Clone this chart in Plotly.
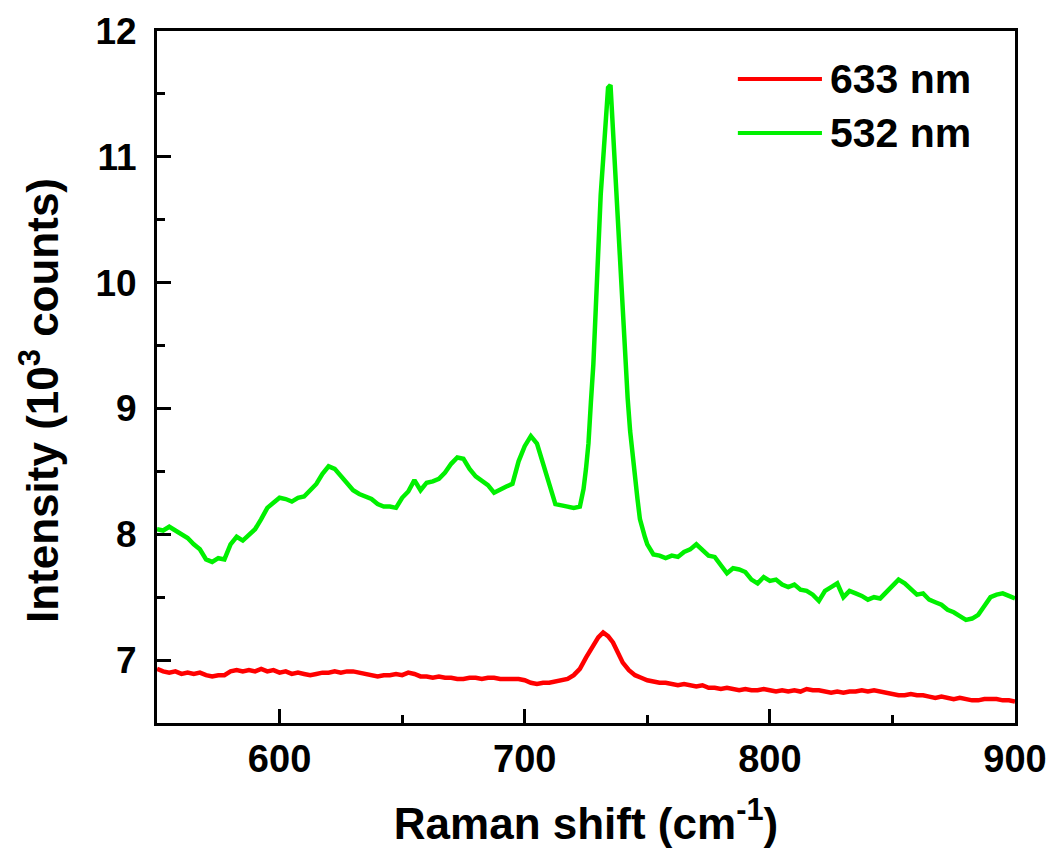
import plotly.graph_objects as go

# ---- data ----
green_x = [550, 552.5, 555, 557.5, 560, 562.5, 565, 567.5, 570, 572.5, 575, 577.5, 580, 582.5, 585, 587.5,
           590, 592.5, 595, 597.5, 600, 602.5, 605, 607.5, 610, 612.5, 615, 617.5, 620, 622.5, 625, 627.5,
           630, 632.5, 635, 637.5, 640, 642.5, 645, 647.5, 650, 652.5, 655, 657.5, 660, 662.5, 665, 667.5,
           670, 672.5, 675, 677.5, 680, 682.5, 685, 687.5, 690, 692.5, 695, 697.5, 700, 702.5, 705, 707.5,
           710, 712.5, 715, 717.5, 720, 722.5, 724, 725, 726, 727, 728, 729, 730, 731, 732, 733, 734, 735,
           736, 737, 738, 739, 740, 741, 742, 743, 744, 745, 746, 747, 748, 749, 750, 752.5, 755, 757.5,
           760, 762.5, 765, 767.5, 770, 772.5, 775, 777.5, 780, 782.5, 785, 787.5, 790, 792.5, 795, 797.5,
           800, 802.5, 805, 807.5, 810, 812.5, 815, 817.5, 820, 822.5, 825, 827.5, 830, 832.5, 835, 837.5,
           840, 842.5, 845, 847.5, 850, 852.5, 855, 857.5, 860, 862.5, 865, 867.5, 870, 872.5, 875, 877.5,
           880, 882.5, 885, 887.5, 890, 892.5, 895, 897.5, 900]
green_y = [8.04, 8.03, 8.06, 8.03, 8.01, 7.97, 7.92, 7.88, 7.80, 7.78, 7.81, 7.80, 7.92, 7.98, 7.95, 7.99,
           8.04, 8.12, 8.21, 8.25, 8.29, 8.28, 8.26, 8.29, 8.30, 8.35, 8.40, 8.48, 8.54, 8.52, 8.46, 8.40,
           8.35, 8.32, 8.30, 8.28, 8.24, 8.22, 8.22, 8.21, 8.29, 8.34, 8.43, 8.35, 8.41, 8.42, 8.44, 8.49,
           8.56, 8.61, 8.60, 8.52, 8.46, 8.42, 8.39, 8.33, 8.36, 8.38, 8.40, 8.58, 8.70, 8.78, 8.72, 8.55,
           8.40, 8.24, 8.23, 8.22, 8.21, 8.22, 8.36, 8.52, 8.72, 9.05, 9.35, 9.80, 10.30, 10.70, 10.98, 11.30, 11.55, 11.57,
           11.22, 10.90, 10.50, 10.05, 9.70, 9.35, 9.08, 8.82, 8.62, 8.45, 8.28, 8.12, 8.04, 7.98, 7.92, 7.84, 7.83, 7.81,
           7.83, 7.82, 7.86, 7.88, 7.92, 7.88, 7.83, 7.82, 7.76, 7.69, 7.73, 7.72, 7.70, 7.64, 7.61, 7.66,
           7.63, 7.64, 7.60, 7.58, 7.60, 7.56, 7.55, 7.52, 7.47, 7.55, 7.58, 7.61, 7.50, 7.55, 7.53, 7.51,
           7.48, 7.50, 7.49, 7.54, 7.59, 7.64, 7.61, 7.56, 7.52, 7.53, 7.48, 7.46, 7.44, 7.40, 7.38, 7.35,
           7.32, 7.33, 7.36, 7.43, 7.50, 7.52, 7.53, 7.51, 7.49]

red_x = [550, 552.5, 555, 557.5, 560, 562.5, 565, 567.5, 570, 572.5, 575, 577.5, 580, 582.5, 585, 587.5,
         590, 592.5, 595, 597.5, 600, 602.5, 605, 607.5, 610, 612.5, 615, 617.5, 620, 622.5, 625, 627.5,
         630, 632.5, 635, 637.5, 640, 642.5, 645, 647.5, 650, 652.5, 655, 657.5, 660, 662.5, 665, 667.5,
         670, 672.5, 675, 677.5, 680, 682.5, 685, 687.5, 690, 692.5, 695, 697.5, 700, 702.5, 705, 707.5,
         710, 712.5, 715, 717.5, 720, 722.5, 725, 727.5, 730, 732, 734, 736, 738, 740, 742.5, 745, 747.5,
         750, 752.5, 755, 757.5, 760, 762.5, 765, 767.5, 770, 772.5, 775, 777.5, 780, 782.5, 785, 787.5,
         790, 792.5, 795, 797.5, 800, 802.5, 805, 807.5, 810, 812.5, 815, 817.5, 820, 822.5, 825, 827.5,
         830, 832.5, 835, 837.5, 840, 842.5, 845, 847.5, 850, 852.5, 855, 857.5, 860, 862.5, 865, 867.5,
         870, 872.5, 875, 877.5, 880, 882.5, 885, 887.5, 890, 892.5, 895, 897.5, 900]
red_y = [6.93, 6.91, 6.90, 6.91, 6.89, 6.90, 6.89, 6.90, 6.88, 6.87, 6.88, 6.88, 6.91, 6.92, 6.91, 6.92,
         6.91, 6.93, 6.91, 6.92, 6.90, 6.91, 6.89, 6.90, 6.89, 6.88, 6.89, 6.90, 6.90, 6.91, 6.90, 6.91,
         6.91, 6.90, 6.89, 6.88, 6.87, 6.88, 6.88, 6.89, 6.88, 6.90, 6.89, 6.87, 6.87, 6.86, 6.87, 6.86,
         6.86, 6.85, 6.85, 6.86, 6.86, 6.85, 6.86, 6.86, 6.85, 6.85, 6.85, 6.85, 6.84, 6.82, 6.81, 6.82,
         6.82, 6.83, 6.84, 6.85, 6.88, 6.93, 7.02, 7.10, 7.18, 7.22, 7.19, 7.14, 7.06, 6.98, 6.92, 6.88, 6.86,
         6.84, 6.83, 6.82, 6.82, 6.81, 6.80, 6.81, 6.80, 6.79, 6.80, 6.78, 6.78, 6.77, 6.78, 6.77, 6.76,
         6.77, 6.76, 6.76, 6.77, 6.76, 6.75, 6.76, 6.75, 6.76, 6.75, 6.77, 6.76, 6.76, 6.75, 6.74, 6.75,
         6.74, 6.75, 6.75, 6.76, 6.75, 6.76, 6.75, 6.74, 6.73, 6.72, 6.72, 6.73, 6.72, 6.72, 6.71, 6.70,
         6.71, 6.70, 6.69, 6.70, 6.69, 6.68, 6.68, 6.69, 6.69, 6.69, 6.68, 6.68, 6.67]

series_names = ["633 nm", "532 nm"]
series_colors = ["#FF0000", "#00F000"]
x_range = [550, 900]
y_range = [6.5, 12]
x_ticks = [600, 700, 800, 900]
y_ticks = [7, 8, 9, 10, 11, 12]

FONT = "Liberation Sans, Arial, sans-serif"

fig = go.Figure()
fig.add_trace(go.Scatter(x=red_x, y=red_y, mode="lines", name=series_names[0],
                         line=dict(color=series_colors[0], width=4.5), showlegend=False))
fig.add_trace(go.Scatter(x=green_x, y=green_y, mode="lines", name=series_names[1],
                         line=dict(color=series_colors[1], width=4.5), showlegend=False))

# manual legend (long line samples like the reference)
leg_rows = [0.9306, 0.8526]
for name, color, yy in zip(series_names, series_colors, leg_rows):
    fig.add_shape(type="line", xref="paper", yref="paper", x0=0.677, x1=0.775, y0=yy, y1=yy,
                  line=dict(color=color, width=4))
    fig.add_annotation(xref="paper", yref="paper", x=0.782, y=yy, xanchor="left", yanchor="middle",
                       text="<b>%s</b>" % name, showarrow=False,
                       font=dict(family=FONT, size=41, color="black"))

# y-axis title (placed slightly below the plot centre, as in the reference)
fig.add_annotation(xref="paper", yref="paper", x=-0.137, y=0.466, xanchor="center", yanchor="middle",
                   textangle=-90, showarrow=False,
                   text="<b>Intensity (10<sup>3</sup> counts)</b>",
                   font=dict(family=FONT, size=44, color="black"))

axis_common = dict(showline=True, linecolor="black", linewidth=3, mirror=True,
                   ticks="inside", tickcolor="black", tickwidth=3, ticklen=14,
                   showgrid=False, zeroline=False)

fig.update_xaxes(range=x_range, tickvals=x_ticks, ticklabelstandoff=0,
                 tickfont=dict(family=FONT, size=38, color="black", weight="bold"),
                 minor=dict(dtick=50, ticks="inside", ticklen=8, tickwidth=3, tickcolor="black"),
                 title=dict(text="Raman shift (cm<sup>-1</sup>)", standoff=30,
                            font=dict(family=FONT, size=44, color="black", weight="bold")),
                 **axis_common)
fig.update_yaxes(range=y_range, tickvals=y_ticks, ticklabelstandoff=10,
                 tickfont=dict(family=FONT, size=37, color="black", weight="bold"),
                 minor=dict(dtick=0.5, ticks="inside", ticklen=8, tickwidth=3, tickcolor="black"),
                 **axis_common)

fig.update_layout(width=1051, height=856, plot_bgcolor="white", paper_bgcolor="white",
                  margin=dict(l=157, r=36, t=31, b=133, autoexpand=False),
                  showlegend=False)

fig.write_html("out.html")
